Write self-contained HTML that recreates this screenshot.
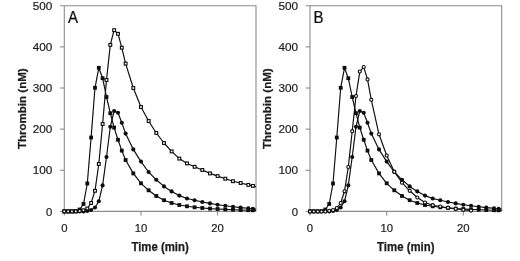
<!DOCTYPE html>
<html><head><meta charset="utf-8"><title>Thrombin generation</title>
<style>
html,body{margin:0;padding:0;background:#fff;}
svg{display:block;font-family:"Liberation Sans",sans-serif;}
</style></head>
<body>
<svg width="520" height="261" viewBox="0 0 520 261">
<defs><filter id="soft" x="0" y="0" width="520" height="261" filterUnits="userSpaceOnUse"><feGaussianBlur stdDeviation="0.3"/></filter></defs>
<rect width="520" height="261" fill="#fff"/>
<g filter="url(#soft)">
<path d="M60.0 5.75H256.0V211.4" fill="none" stroke="#8c8c8c" stroke-width="1.1"/>
<path d="M64.3 5.75V211.4H256.0" fill="none" stroke="#8c8c8c" stroke-width="1.1"/>
<path d="M60.0 211.40H64.3" stroke="#8c8c8c" stroke-width="1.1"/>
<text x="52.4" y="215.5" text-anchor="end" font-size="11.3" fill="#1c1c1c" stroke="#1c1c1c" stroke-width="0.2">0</text>
<path d="M60.0 170.27H64.3" stroke="#8c8c8c" stroke-width="1.1"/>
<text x="52.4" y="174.3" text-anchor="end" font-size="11.3" fill="#1c1c1c" stroke="#1c1c1c" stroke-width="0.2" textLength="19.6" lengthAdjust="spacingAndGlyphs">100</text>
<path d="M60.0 129.14H64.3" stroke="#8c8c8c" stroke-width="1.1"/>
<text x="52.4" y="133.2" text-anchor="end" font-size="11.3" fill="#1c1c1c" stroke="#1c1c1c" stroke-width="0.2" textLength="19.6" lengthAdjust="spacingAndGlyphs">200</text>
<path d="M60.0 88.01H64.3" stroke="#8c8c8c" stroke-width="1.1"/>
<text x="52.4" y="92.1" text-anchor="end" font-size="11.3" fill="#1c1c1c" stroke="#1c1c1c" stroke-width="0.2" textLength="19.6" lengthAdjust="spacingAndGlyphs">300</text>
<path d="M60.0 46.88H64.3" stroke="#8c8c8c" stroke-width="1.1"/>
<text x="52.4" y="50.9" text-anchor="end" font-size="11.3" fill="#1c1c1c" stroke="#1c1c1c" stroke-width="0.2" textLength="19.6" lengthAdjust="spacingAndGlyphs">400</text>
<text x="52.4" y="9.8" text-anchor="end" font-size="11.3" fill="#1c1c1c" stroke="#1c1c1c" stroke-width="0.2" textLength="19.6" lengthAdjust="spacingAndGlyphs">500</text>
<path d="M64.3 211.4V215.4" stroke="#8c8c8c" stroke-width="1.1"/>
<text x="64.3" y="232" text-anchor="middle" font-size="11.3" fill="#1c1c1c" stroke="#1c1c1c" stroke-width="0.2">0</text>
<path d="M141.0 211.4V215.4" stroke="#8c8c8c" stroke-width="1.1"/>
<text x="141.0" y="232" text-anchor="middle" font-size="11.3" fill="#1c1c1c" stroke="#1c1c1c" stroke-width="0.2">10</text>
<path d="M217.6 211.4V215.4" stroke="#8c8c8c" stroke-width="1.1"/>
<text x="217.6" y="232" text-anchor="middle" font-size="11.3" fill="#1c1c1c" stroke="#1c1c1c" stroke-width="0.2">20</text>
<text x="160.1" y="250.7" text-anchor="middle" font-size="11.9" font-weight="bold" fill="#1c1c1c" stroke="#1c1c1c" stroke-width="0.25" textLength="57.4" lengthAdjust="spacingAndGlyphs">Time (min)</text>
<text transform="translate(25.6 149.1) rotate(-90)" font-size="11.6" font-weight="bold" fill="#1c1c1c" stroke="#1c1c1c" stroke-width="0.25" textLength="80.8" lengthAdjust="spacingAndGlyphs">Thrombin (nM)</text>
<text transform="translate(67.9 23.2) scale(0.9 1)" font-size="16.7" fill="#111" stroke="#111" stroke-width="0.25">A</text>
<polyline points="64.3,211.4 68.1,211.4 72.0,211.4 75.8,211.2 79.6,209.5 83.5,204.0 87.3,183.5 91.1,137.5 95.0,87.8 98.8,67.8 102.6,78.2 106.5,97.0 110.3,113.2 114.1,127.6 118.0,139.8 121.8,150.6 125.6,160.0 133.3,173.4 141.0,183.3 148.6,190.3 156.3,196.0 164.0,200.2 171.6,203.0 179.3,205.0 187.0,206.3 194.6,207.3 202.3,208.0 210.0,208.6 217.6,209.0 225.3,209.4 233.0,209.7 240.6,210.0 248.3,210.2 252.9,210.3 256.0,210.4" fill="none" stroke="#0a0a0a" stroke-width="1.15" stroke-linejoin="round"/>
<rect x="62.4" y="209.5" width="3.8" height="3.8" fill="#0a0a0a"/>
<rect x="66.2" y="209.5" width="3.8" height="3.8" fill="#0a0a0a"/>
<rect x="70.1" y="209.5" width="3.8" height="3.8" fill="#0a0a0a"/>
<rect x="73.9" y="209.3" width="3.8" height="3.8" fill="#0a0a0a"/>
<rect x="77.7" y="207.6" width="3.8" height="3.8" fill="#0a0a0a"/>
<rect x="81.6" y="202.1" width="3.8" height="3.8" fill="#0a0a0a"/>
<rect x="85.4" y="181.6" width="3.8" height="3.8" fill="#0a0a0a"/>
<rect x="89.2" y="135.6" width="3.8" height="3.8" fill="#0a0a0a"/>
<rect x="93.1" y="85.9" width="3.8" height="3.8" fill="#0a0a0a"/>
<rect x="96.9" y="65.9" width="3.8" height="3.8" fill="#0a0a0a"/>
<rect x="100.7" y="76.3" width="3.8" height="3.8" fill="#0a0a0a"/>
<rect x="104.6" y="95.1" width="3.8" height="3.8" fill="#0a0a0a"/>
<rect x="108.4" y="111.3" width="3.8" height="3.8" fill="#0a0a0a"/>
<rect x="112.2" y="125.7" width="3.8" height="3.8" fill="#0a0a0a"/>
<rect x="116.1" y="137.9" width="3.8" height="3.8" fill="#0a0a0a"/>
<rect x="119.9" y="148.7" width="3.8" height="3.8" fill="#0a0a0a"/>
<rect x="123.7" y="158.1" width="3.8" height="3.8" fill="#0a0a0a"/>
<rect x="131.4" y="171.5" width="3.8" height="3.8" fill="#0a0a0a"/>
<rect x="139.1" y="181.4" width="3.8" height="3.8" fill="#0a0a0a"/>
<rect x="146.7" y="188.4" width="3.8" height="3.8" fill="#0a0a0a"/>
<rect x="154.4" y="194.1" width="3.8" height="3.8" fill="#0a0a0a"/>
<rect x="162.1" y="198.3" width="3.8" height="3.8" fill="#0a0a0a"/>
<rect x="169.7" y="201.1" width="3.8" height="3.8" fill="#0a0a0a"/>
<rect x="177.4" y="203.1" width="3.8" height="3.8" fill="#0a0a0a"/>
<rect x="185.1" y="204.4" width="3.8" height="3.8" fill="#0a0a0a"/>
<rect x="192.7" y="205.4" width="3.8" height="3.8" fill="#0a0a0a"/>
<rect x="200.4" y="206.1" width="3.8" height="3.8" fill="#0a0a0a"/>
<rect x="208.1" y="206.7" width="3.8" height="3.8" fill="#0a0a0a"/>
<rect x="215.7" y="207.1" width="3.8" height="3.8" fill="#0a0a0a"/>
<rect x="223.4" y="207.5" width="3.8" height="3.8" fill="#0a0a0a"/>
<rect x="231.1" y="207.8" width="3.8" height="3.8" fill="#0a0a0a"/>
<rect x="238.7" y="208.1" width="3.8" height="3.8" fill="#0a0a0a"/>
<rect x="246.4" y="208.3" width="3.8" height="3.8" fill="#0a0a0a"/>
<rect x="251.0" y="208.4" width="3.8" height="3.8" fill="#0a0a0a"/>
<polyline points="64.3,211.4 68.1,211.4 72.0,211.4 75.8,211.4 79.6,211.4 83.5,211.4 87.3,211.0 91.1,210.0 95.0,207.5 98.8,201.3 102.6,185.4 106.5,157.0 110.3,126.8 114.1,111.0 118.0,112.8 121.8,122.8 125.6,133.6 133.3,149.4 141.0,161.6 148.6,172.0 156.3,179.8 164.0,186.4 171.6,191.4 179.3,195.6 187.0,198.5 194.6,200.3 202.3,202.0 210.0,203.4 217.6,204.8 225.3,205.8 233.0,206.8 240.6,207.6 248.3,208.3 252.9,208.8 256.0,209.0" fill="none" stroke="#0a0a0a" stroke-width="1.15" stroke-linejoin="round"/>
<circle cx="64.3" cy="211.4" r="2.05" fill="#0a0a0a"/>
<circle cx="68.1" cy="211.4" r="2.05" fill="#0a0a0a"/>
<circle cx="72.0" cy="211.4" r="2.05" fill="#0a0a0a"/>
<circle cx="75.8" cy="211.4" r="2.05" fill="#0a0a0a"/>
<circle cx="79.6" cy="211.4" r="2.05" fill="#0a0a0a"/>
<circle cx="83.5" cy="211.4" r="2.05" fill="#0a0a0a"/>
<circle cx="87.3" cy="211.0" r="2.05" fill="#0a0a0a"/>
<circle cx="91.1" cy="210.0" r="2.05" fill="#0a0a0a"/>
<circle cx="95.0" cy="207.5" r="2.05" fill="#0a0a0a"/>
<circle cx="98.8" cy="201.3" r="2.05" fill="#0a0a0a"/>
<circle cx="102.6" cy="185.4" r="2.05" fill="#0a0a0a"/>
<circle cx="106.5" cy="157.0" r="2.05" fill="#0a0a0a"/>
<circle cx="110.3" cy="126.8" r="2.05" fill="#0a0a0a"/>
<circle cx="114.1" cy="111.0" r="2.05" fill="#0a0a0a"/>
<circle cx="118.0" cy="112.8" r="2.05" fill="#0a0a0a"/>
<circle cx="121.8" cy="122.8" r="2.05" fill="#0a0a0a"/>
<circle cx="125.6" cy="133.6" r="2.05" fill="#0a0a0a"/>
<circle cx="133.3" cy="149.4" r="2.05" fill="#0a0a0a"/>
<circle cx="141.0" cy="161.6" r="2.05" fill="#0a0a0a"/>
<circle cx="148.6" cy="172.0" r="2.05" fill="#0a0a0a"/>
<circle cx="156.3" cy="179.8" r="2.05" fill="#0a0a0a"/>
<circle cx="164.0" cy="186.4" r="2.05" fill="#0a0a0a"/>
<circle cx="171.6" cy="191.4" r="2.05" fill="#0a0a0a"/>
<circle cx="179.3" cy="195.6" r="2.05" fill="#0a0a0a"/>
<circle cx="187.0" cy="198.5" r="2.05" fill="#0a0a0a"/>
<circle cx="194.6" cy="200.3" r="2.05" fill="#0a0a0a"/>
<circle cx="202.3" cy="202.0" r="2.05" fill="#0a0a0a"/>
<circle cx="210.0" cy="203.4" r="2.05" fill="#0a0a0a"/>
<circle cx="217.6" cy="204.8" r="2.05" fill="#0a0a0a"/>
<circle cx="225.3" cy="205.8" r="2.05" fill="#0a0a0a"/>
<circle cx="233.0" cy="206.8" r="2.05" fill="#0a0a0a"/>
<circle cx="240.6" cy="207.6" r="2.05" fill="#0a0a0a"/>
<circle cx="248.3" cy="208.3" r="2.05" fill="#0a0a0a"/>
<circle cx="252.9" cy="208.8" r="2.05" fill="#0a0a0a"/>
<polyline points="64.3,211.4 68.1,211.4 72.0,211.4 75.8,211.4 79.6,211.0 83.5,210.3 87.3,208.5 91.1,203.0 95.0,190.8 98.8,164.0 102.6,124.0 106.5,80.0 110.3,44.9 114.1,30.2 118.0,33.8 121.8,47.7 125.6,63.6 133.3,88.0 141.0,107.0 148.6,121.0 156.3,133.0 164.0,143.0 171.6,151.4 179.3,158.6 187.0,163.4 194.6,166.8 202.3,170.0 210.0,173.4 217.6,176.1 225.3,178.7 233.0,181.2 240.6,183.0 248.3,184.9 252.9,185.9 256.0,186.8" fill="none" stroke="#0a0a0a" stroke-width="1.15" stroke-linejoin="round"/>
<rect x="62.90" y="210.00" width="2.8" height="2.8" fill="#fff" stroke="#0a0a0a" stroke-width="1.1"/>
<rect x="66.73" y="210.00" width="2.8" height="2.8" fill="#fff" stroke="#0a0a0a" stroke-width="1.1"/>
<rect x="70.57" y="210.00" width="2.8" height="2.8" fill="#fff" stroke="#0a0a0a" stroke-width="1.1"/>
<rect x="74.40" y="210.00" width="2.8" height="2.8" fill="#fff" stroke="#0a0a0a" stroke-width="1.1"/>
<rect x="78.23" y="209.60" width="2.8" height="2.8" fill="#fff" stroke="#0a0a0a" stroke-width="1.1"/>
<rect x="82.07" y="208.90" width="2.8" height="2.8" fill="#fff" stroke="#0a0a0a" stroke-width="1.1"/>
<rect x="85.90" y="207.10" width="2.8" height="2.8" fill="#fff" stroke="#0a0a0a" stroke-width="1.1"/>
<rect x="89.73" y="201.60" width="2.8" height="2.8" fill="#fff" stroke="#0a0a0a" stroke-width="1.1"/>
<rect x="93.57" y="189.40" width="2.8" height="2.8" fill="#fff" stroke="#0a0a0a" stroke-width="1.1"/>
<rect x="97.40" y="162.60" width="2.8" height="2.8" fill="#fff" stroke="#0a0a0a" stroke-width="1.1"/>
<rect x="101.23" y="122.60" width="2.8" height="2.8" fill="#fff" stroke="#0a0a0a" stroke-width="1.1"/>
<rect x="105.07" y="78.60" width="2.8" height="2.8" fill="#fff" stroke="#0a0a0a" stroke-width="1.1"/>
<rect x="108.90" y="43.50" width="2.8" height="2.8" fill="#fff" stroke="#0a0a0a" stroke-width="1.1"/>
<rect x="112.74" y="28.80" width="2.8" height="2.8" fill="#fff" stroke="#0a0a0a" stroke-width="1.1"/>
<rect x="116.57" y="32.40" width="2.8" height="2.8" fill="#fff" stroke="#0a0a0a" stroke-width="1.1"/>
<rect x="120.40" y="46.30" width="2.8" height="2.8" fill="#fff" stroke="#0a0a0a" stroke-width="1.1"/>
<rect x="124.24" y="62.20" width="2.8" height="2.8" fill="#fff" stroke="#0a0a0a" stroke-width="1.1"/>
<rect x="131.90" y="86.60" width="2.8" height="2.8" fill="#fff" stroke="#0a0a0a" stroke-width="1.1"/>
<rect x="139.57" y="105.60" width="2.8" height="2.8" fill="#fff" stroke="#0a0a0a" stroke-width="1.1"/>
<rect x="147.24" y="119.60" width="2.8" height="2.8" fill="#fff" stroke="#0a0a0a" stroke-width="1.1"/>
<rect x="154.90" y="131.60" width="2.8" height="2.8" fill="#fff" stroke="#0a0a0a" stroke-width="1.1"/>
<rect x="162.57" y="141.60" width="2.8" height="2.8" fill="#fff" stroke="#0a0a0a" stroke-width="1.1"/>
<rect x="170.24" y="150.00" width="2.8" height="2.8" fill="#fff" stroke="#0a0a0a" stroke-width="1.1"/>
<rect x="177.91" y="157.20" width="2.8" height="2.8" fill="#fff" stroke="#0a0a0a" stroke-width="1.1"/>
<rect x="185.57" y="162.00" width="2.8" height="2.8" fill="#fff" stroke="#0a0a0a" stroke-width="1.1"/>
<rect x="193.24" y="165.40" width="2.8" height="2.8" fill="#fff" stroke="#0a0a0a" stroke-width="1.1"/>
<rect x="200.91" y="168.60" width="2.8" height="2.8" fill="#fff" stroke="#0a0a0a" stroke-width="1.1"/>
<rect x="208.57" y="172.00" width="2.8" height="2.8" fill="#fff" stroke="#0a0a0a" stroke-width="1.1"/>
<rect x="216.24" y="174.70" width="2.8" height="2.8" fill="#fff" stroke="#0a0a0a" stroke-width="1.1"/>
<rect x="223.91" y="177.30" width="2.8" height="2.8" fill="#fff" stroke="#0a0a0a" stroke-width="1.1"/>
<rect x="231.57" y="179.80" width="2.8" height="2.8" fill="#fff" stroke="#0a0a0a" stroke-width="1.1"/>
<rect x="239.24" y="181.60" width="2.8" height="2.8" fill="#fff" stroke="#0a0a0a" stroke-width="1.1"/>
<rect x="246.91" y="183.50" width="2.8" height="2.8" fill="#fff" stroke="#0a0a0a" stroke-width="1.1"/>
<rect x="251.51" y="184.50" width="2.8" height="2.8" fill="#fff" stroke="#0a0a0a" stroke-width="1.1"/>
<path d="M305.7 5.75H501.7V211.4" fill="none" stroke="#8c8c8c" stroke-width="1.1"/>
<path d="M310.0 5.75V211.4H501.7" fill="none" stroke="#8c8c8c" stroke-width="1.1"/>
<path d="M305.7 211.40H310.0" stroke="#8c8c8c" stroke-width="1.1"/>
<text x="298.1" y="215.5" text-anchor="end" font-size="11.3" fill="#1c1c1c" stroke="#1c1c1c" stroke-width="0.2">0</text>
<path d="M305.7 170.27H310.0" stroke="#8c8c8c" stroke-width="1.1"/>
<text x="298.1" y="174.3" text-anchor="end" font-size="11.3" fill="#1c1c1c" stroke="#1c1c1c" stroke-width="0.2" textLength="19.6" lengthAdjust="spacingAndGlyphs">100</text>
<path d="M305.7 129.14H310.0" stroke="#8c8c8c" stroke-width="1.1"/>
<text x="298.1" y="133.2" text-anchor="end" font-size="11.3" fill="#1c1c1c" stroke="#1c1c1c" stroke-width="0.2" textLength="19.6" lengthAdjust="spacingAndGlyphs">200</text>
<path d="M305.7 88.01H310.0" stroke="#8c8c8c" stroke-width="1.1"/>
<text x="298.1" y="92.1" text-anchor="end" font-size="11.3" fill="#1c1c1c" stroke="#1c1c1c" stroke-width="0.2" textLength="19.6" lengthAdjust="spacingAndGlyphs">300</text>
<path d="M305.7 46.88H310.0" stroke="#8c8c8c" stroke-width="1.1"/>
<text x="298.1" y="50.9" text-anchor="end" font-size="11.3" fill="#1c1c1c" stroke="#1c1c1c" stroke-width="0.2" textLength="19.6" lengthAdjust="spacingAndGlyphs">400</text>
<text x="298.1" y="9.8" text-anchor="end" font-size="11.3" fill="#1c1c1c" stroke="#1c1c1c" stroke-width="0.2" textLength="19.6" lengthAdjust="spacingAndGlyphs">500</text>
<path d="M310.0 211.4V215.4" stroke="#8c8c8c" stroke-width="1.1"/>
<text x="310.0" y="232" text-anchor="middle" font-size="11.3" fill="#1c1c1c" stroke="#1c1c1c" stroke-width="0.2">0</text>
<path d="M386.7 211.4V215.4" stroke="#8c8c8c" stroke-width="1.1"/>
<text x="386.7" y="232" text-anchor="middle" font-size="11.3" fill="#1c1c1c" stroke="#1c1c1c" stroke-width="0.2">10</text>
<path d="M463.3 211.4V215.4" stroke="#8c8c8c" stroke-width="1.1"/>
<text x="463.3" y="232" text-anchor="middle" font-size="11.3" fill="#1c1c1c" stroke="#1c1c1c" stroke-width="0.2">20</text>
<text x="405.8" y="250.7" text-anchor="middle" font-size="11.9" font-weight="bold" fill="#1c1c1c" stroke="#1c1c1c" stroke-width="0.25" textLength="57.4" lengthAdjust="spacingAndGlyphs">Time (min)</text>
<text transform="translate(271.3 149.1) rotate(-90)" font-size="11.6" font-weight="bold" fill="#1c1c1c" stroke="#1c1c1c" stroke-width="0.25" textLength="80.8" lengthAdjust="spacingAndGlyphs">Thrombin (nM)</text>
<text transform="translate(313.6 23.2) scale(0.9 1)" font-size="16.7" fill="#111" stroke="#111" stroke-width="0.25">B</text>
<polyline points="310.0,211.4 313.8,211.4 317.7,211.4 321.5,211.2 325.3,209.5 329.2,204.0 333.0,183.5 336.8,137.5 340.7,87.8 344.5,67.8 348.3,78.2 352.2,97.0 356.0,113.2 359.8,127.6 363.7,139.8 367.5,150.6 371.3,160.0 379.0,173.4 386.7,183.3 394.3,190.3 402.0,196.0 409.7,200.2 417.3,203.0 425.0,205.0 432.7,206.3 440.3,207.3 448.0,208.0 455.7,208.6 463.3,209.0 471.0,209.4 478.7,209.7 486.3,210.0 494.0,210.2 498.6,210.3 501.7,210.4" fill="none" stroke="#0a0a0a" stroke-width="1.15" stroke-linejoin="round"/>
<rect x="308.1" y="209.5" width="3.8" height="3.8" fill="#0a0a0a"/>
<rect x="311.9" y="209.5" width="3.8" height="3.8" fill="#0a0a0a"/>
<rect x="315.8" y="209.5" width="3.8" height="3.8" fill="#0a0a0a"/>
<rect x="319.6" y="209.3" width="3.8" height="3.8" fill="#0a0a0a"/>
<rect x="323.4" y="207.6" width="3.8" height="3.8" fill="#0a0a0a"/>
<rect x="327.3" y="202.1" width="3.8" height="3.8" fill="#0a0a0a"/>
<rect x="331.1" y="181.6" width="3.8" height="3.8" fill="#0a0a0a"/>
<rect x="334.9" y="135.6" width="3.8" height="3.8" fill="#0a0a0a"/>
<rect x="338.8" y="85.9" width="3.8" height="3.8" fill="#0a0a0a"/>
<rect x="342.6" y="65.9" width="3.8" height="3.8" fill="#0a0a0a"/>
<rect x="346.4" y="76.3" width="3.8" height="3.8" fill="#0a0a0a"/>
<rect x="350.3" y="95.1" width="3.8" height="3.8" fill="#0a0a0a"/>
<rect x="354.1" y="111.3" width="3.8" height="3.8" fill="#0a0a0a"/>
<rect x="357.9" y="125.7" width="3.8" height="3.8" fill="#0a0a0a"/>
<rect x="361.8" y="137.9" width="3.8" height="3.8" fill="#0a0a0a"/>
<rect x="365.6" y="148.7" width="3.8" height="3.8" fill="#0a0a0a"/>
<rect x="369.4" y="158.1" width="3.8" height="3.8" fill="#0a0a0a"/>
<rect x="377.1" y="171.5" width="3.8" height="3.8" fill="#0a0a0a"/>
<rect x="384.8" y="181.4" width="3.8" height="3.8" fill="#0a0a0a"/>
<rect x="392.4" y="188.4" width="3.8" height="3.8" fill="#0a0a0a"/>
<rect x="400.1" y="194.1" width="3.8" height="3.8" fill="#0a0a0a"/>
<rect x="407.8" y="198.3" width="3.8" height="3.8" fill="#0a0a0a"/>
<rect x="415.4" y="201.1" width="3.8" height="3.8" fill="#0a0a0a"/>
<rect x="423.1" y="203.1" width="3.8" height="3.8" fill="#0a0a0a"/>
<rect x="430.8" y="204.4" width="3.8" height="3.8" fill="#0a0a0a"/>
<rect x="438.4" y="205.4" width="3.8" height="3.8" fill="#0a0a0a"/>
<rect x="446.1" y="206.1" width="3.8" height="3.8" fill="#0a0a0a"/>
<rect x="453.8" y="206.7" width="3.8" height="3.8" fill="#0a0a0a"/>
<rect x="461.4" y="207.1" width="3.8" height="3.8" fill="#0a0a0a"/>
<rect x="469.1" y="207.5" width="3.8" height="3.8" fill="#0a0a0a"/>
<rect x="476.8" y="207.8" width="3.8" height="3.8" fill="#0a0a0a"/>
<rect x="484.4" y="208.1" width="3.8" height="3.8" fill="#0a0a0a"/>
<rect x="492.1" y="208.3" width="3.8" height="3.8" fill="#0a0a0a"/>
<rect x="496.7" y="208.4" width="3.8" height="3.8" fill="#0a0a0a"/>
<polyline points="310.0,211.4 313.8,211.4 317.7,211.4 321.5,211.4 325.3,211.4 329.2,211.4 333.0,211.0 336.8,210.0 340.7,207.5 344.5,201.3 348.3,185.4 352.2,157.0 356.0,126.8 359.8,111.0 363.7,112.8 367.5,122.8 371.3,133.6 379.0,149.4 386.7,161.6 394.3,172.0 402.0,179.8 409.7,186.4 417.3,191.4 425.0,195.6 432.7,198.5 440.3,200.3 448.0,202.0 455.7,203.4 463.3,204.8 471.0,205.8 478.7,206.8 486.3,207.6 494.0,208.3 498.6,208.8 501.7,209.0" fill="none" stroke="#0a0a0a" stroke-width="1.15" stroke-linejoin="round"/>
<circle cx="310.0" cy="211.4" r="2.05" fill="#0a0a0a"/>
<circle cx="313.8" cy="211.4" r="2.05" fill="#0a0a0a"/>
<circle cx="317.7" cy="211.4" r="2.05" fill="#0a0a0a"/>
<circle cx="321.5" cy="211.4" r="2.05" fill="#0a0a0a"/>
<circle cx="325.3" cy="211.4" r="2.05" fill="#0a0a0a"/>
<circle cx="329.2" cy="211.4" r="2.05" fill="#0a0a0a"/>
<circle cx="333.0" cy="211.0" r="2.05" fill="#0a0a0a"/>
<circle cx="336.8" cy="210.0" r="2.05" fill="#0a0a0a"/>
<circle cx="340.7" cy="207.5" r="2.05" fill="#0a0a0a"/>
<circle cx="344.5" cy="201.3" r="2.05" fill="#0a0a0a"/>
<circle cx="348.3" cy="185.4" r="2.05" fill="#0a0a0a"/>
<circle cx="352.2" cy="157.0" r="2.05" fill="#0a0a0a"/>
<circle cx="356.0" cy="126.8" r="2.05" fill="#0a0a0a"/>
<circle cx="359.8" cy="111.0" r="2.05" fill="#0a0a0a"/>
<circle cx="363.7" cy="112.8" r="2.05" fill="#0a0a0a"/>
<circle cx="367.5" cy="122.8" r="2.05" fill="#0a0a0a"/>
<circle cx="371.3" cy="133.6" r="2.05" fill="#0a0a0a"/>
<circle cx="379.0" cy="149.4" r="2.05" fill="#0a0a0a"/>
<circle cx="386.7" cy="161.6" r="2.05" fill="#0a0a0a"/>
<circle cx="394.3" cy="172.0" r="2.05" fill="#0a0a0a"/>
<circle cx="402.0" cy="179.8" r="2.05" fill="#0a0a0a"/>
<circle cx="409.7" cy="186.4" r="2.05" fill="#0a0a0a"/>
<circle cx="417.3" cy="191.4" r="2.05" fill="#0a0a0a"/>
<circle cx="425.0" cy="195.6" r="2.05" fill="#0a0a0a"/>
<circle cx="432.7" cy="198.5" r="2.05" fill="#0a0a0a"/>
<circle cx="440.3" cy="200.3" r="2.05" fill="#0a0a0a"/>
<circle cx="448.0" cy="202.0" r="2.05" fill="#0a0a0a"/>
<circle cx="455.7" cy="203.4" r="2.05" fill="#0a0a0a"/>
<circle cx="463.3" cy="204.8" r="2.05" fill="#0a0a0a"/>
<circle cx="471.0" cy="205.8" r="2.05" fill="#0a0a0a"/>
<circle cx="478.7" cy="206.8" r="2.05" fill="#0a0a0a"/>
<circle cx="486.3" cy="207.6" r="2.05" fill="#0a0a0a"/>
<circle cx="494.0" cy="208.3" r="2.05" fill="#0a0a0a"/>
<circle cx="498.6" cy="208.8" r="2.05" fill="#0a0a0a"/>
<polyline points="310.0,211.4 313.8,211.4 317.7,211.4 321.5,211.4 325.3,211.4 329.2,210.8 333.0,210.0 336.8,208.0 340.7,203.0 344.5,191.3 348.3,167.0 352.2,131.2 356.0,96.0 359.8,71.6 363.7,67.0 367.5,79.4 371.3,99.8 379.0,134.3 386.7,155.5 394.3,171.7 402.0,182.7 409.7,190.8 417.3,197.5 425.0,202.5 432.7,205.2 440.3,206.5 448.0,207.7 455.7,208.8 463.3,209.8 471.0,210.6" fill="none" stroke="#0a0a0a" stroke-width="1.15" stroke-linejoin="round"/>
<circle cx="310.0" cy="211.4" r="1.55" fill="#fff" stroke="#0a0a0a" stroke-width="1.1"/>
<circle cx="313.8" cy="211.4" r="1.55" fill="#fff" stroke="#0a0a0a" stroke-width="1.1"/>
<circle cx="317.7" cy="211.4" r="1.55" fill="#fff" stroke="#0a0a0a" stroke-width="1.1"/>
<circle cx="321.5" cy="211.4" r="1.55" fill="#fff" stroke="#0a0a0a" stroke-width="1.1"/>
<circle cx="325.3" cy="211.4" r="1.55" fill="#fff" stroke="#0a0a0a" stroke-width="1.1"/>
<circle cx="329.2" cy="210.8" r="1.55" fill="#fff" stroke="#0a0a0a" stroke-width="1.1"/>
<circle cx="333.0" cy="210.0" r="1.55" fill="#fff" stroke="#0a0a0a" stroke-width="1.1"/>
<circle cx="336.8" cy="208.0" r="1.55" fill="#fff" stroke="#0a0a0a" stroke-width="1.1"/>
<circle cx="340.7" cy="203.0" r="1.55" fill="#fff" stroke="#0a0a0a" stroke-width="1.1"/>
<circle cx="344.5" cy="191.3" r="1.55" fill="#fff" stroke="#0a0a0a" stroke-width="1.1"/>
<circle cx="348.3" cy="167.0" r="1.55" fill="#fff" stroke="#0a0a0a" stroke-width="1.1"/>
<circle cx="352.2" cy="131.2" r="1.55" fill="#fff" stroke="#0a0a0a" stroke-width="1.1"/>
<circle cx="356.0" cy="96.0" r="1.55" fill="#fff" stroke="#0a0a0a" stroke-width="1.1"/>
<circle cx="359.8" cy="71.6" r="1.55" fill="#fff" stroke="#0a0a0a" stroke-width="1.1"/>
<circle cx="363.7" cy="67.0" r="1.55" fill="#fff" stroke="#0a0a0a" stroke-width="1.1"/>
<circle cx="367.5" cy="79.4" r="1.55" fill="#fff" stroke="#0a0a0a" stroke-width="1.1"/>
<circle cx="371.3" cy="99.8" r="1.55" fill="#fff" stroke="#0a0a0a" stroke-width="1.1"/>
<circle cx="379.0" cy="134.3" r="1.55" fill="#fff" stroke="#0a0a0a" stroke-width="1.1"/>
<circle cx="386.7" cy="155.5" r="1.55" fill="#fff" stroke="#0a0a0a" stroke-width="1.1"/>
<circle cx="394.3" cy="171.7" r="1.55" fill="#fff" stroke="#0a0a0a" stroke-width="1.1"/>
<circle cx="402.0" cy="182.7" r="1.55" fill="#fff" stroke="#0a0a0a" stroke-width="1.1"/>
<circle cx="409.7" cy="190.8" r="1.55" fill="#fff" stroke="#0a0a0a" stroke-width="1.1"/>
<circle cx="417.3" cy="197.5" r="1.55" fill="#fff" stroke="#0a0a0a" stroke-width="1.1"/>
<circle cx="425.0" cy="202.5" r="1.55" fill="#fff" stroke="#0a0a0a" stroke-width="1.1"/>
<circle cx="432.7" cy="205.2" r="1.55" fill="#fff" stroke="#0a0a0a" stroke-width="1.1"/>
<circle cx="440.3" cy="206.5" r="1.55" fill="#fff" stroke="#0a0a0a" stroke-width="1.1"/>
<circle cx="448.0" cy="207.7" r="1.55" fill="#fff" stroke="#0a0a0a" stroke-width="1.1"/>
<circle cx="455.7" cy="208.8" r="1.55" fill="#fff" stroke="#0a0a0a" stroke-width="1.1"/>
<circle cx="463.3" cy="209.8" r="1.55" fill="#fff" stroke="#0a0a0a" stroke-width="1.1"/>
<circle cx="471.0" cy="210.6" r="1.55" fill="#fff" stroke="#0a0a0a" stroke-width="1.1"/>
</g>
</svg>
</body></html>
